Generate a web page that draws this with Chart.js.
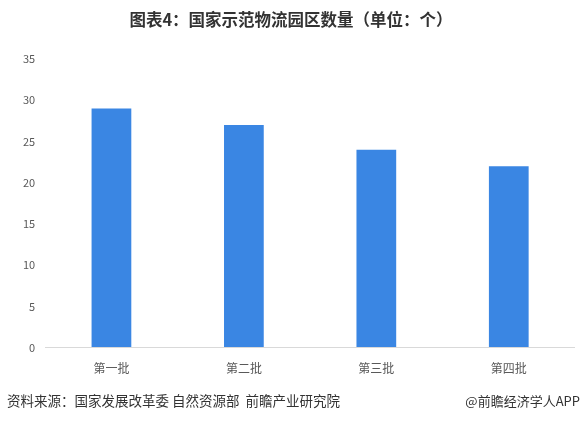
<!DOCTYPE html>
<html>
<head>
<meta charset="utf-8">
<script src="https://cdn.jsdelivr.net/npm/chart.js@4.4.1/dist/chart.umd.min.js"></script>
<style>
  html, body { margin: 0; padding: 0; background: #fff; }
  #wrap { width: 583px; height: 421px; position: relative; }
</style>
</head>
<body>
<div id="wrap"><canvas id="chart"></canvas></div>
<script>
const categories = ['第一批', '第二批', '第三批', '第四批']
const parkCounts = [29, 27, 24, 22]
const yTicks = [0, 5, 10, 15, 20, 25, 30, 35]

const titleText = '图表4：国家示范物流园区数量（单位：个）'
const sourceText = '资料来源：国家发展改革委 自然资源部  前瞻产业研究院'
const brandText = '@前瞻经济学人APP'

const FONT = '"Noto Sans CJK SC", "Noto Sans", sans-serif'

// title + footer drawn straight onto the canvas
const textPlugin = {
  id: 'texts',
  afterDraw(chart) {
    const c = chart.ctx
    c.save()
    c.fillStyle = '#333'
    c.textBaseline = 'middle'
    c.font = 'bold 16.5px ' + FONT
    c.textAlign = 'center'
    c.fillText(titleText, 291, 20)
    c.font = '13.5px ' + FONT
    c.textAlign = 'left'
    c.fillText(sourceText, 7, 401)
    c.font = '13px ' + FONT
    c.textAlign = 'right'
    c.fillText(brandText, 580, 401)
    c.restore()
  }
}

new Chart(document.getElementById('chart'), {
  type: 'bar',
  data: {
    labels: categories,
    datasets: [{
      data: parkCounts,
      backgroundColor: '#3a86e3',
      barPercentage: 0.3,
      categoryPercentage: 1
    }]
  },
  options: {
    responsive: true,
    maintainAspectRatio: false,
    animation: false,
    layout: { padding: { top: 59, left: 13, right: 8, bottom: 39 } },
    plugins: {
      legend: { display: false },
      tooltip: { enabled: false }
    },
    scales: {
      x: {
        grid: { display: false },
        border: { display: false },
        ticks: { color: '#595959', font: { size: 12, family: FONT }, padding: 6 }
      },
      y: {
        min: 0,
        max: 35,
        afterBuildTicks: (axis) => { axis.ticks = yTicks.map(v => ({ value: v })) },
        grid: {
          drawTicks: false,
          color: (ctx) => ctx.tick && ctx.tick.value === 0 ? '#d9d9d9' : 'rgba(0,0,0,0)'
        },
        border: { display: false },
        ticks: { color: '#595959', font: { size: 11, family: FONT }, padding: 10 }
      }
    }
  },
  plugins: [textPlugin]
})
</script>
</body>
</html>
